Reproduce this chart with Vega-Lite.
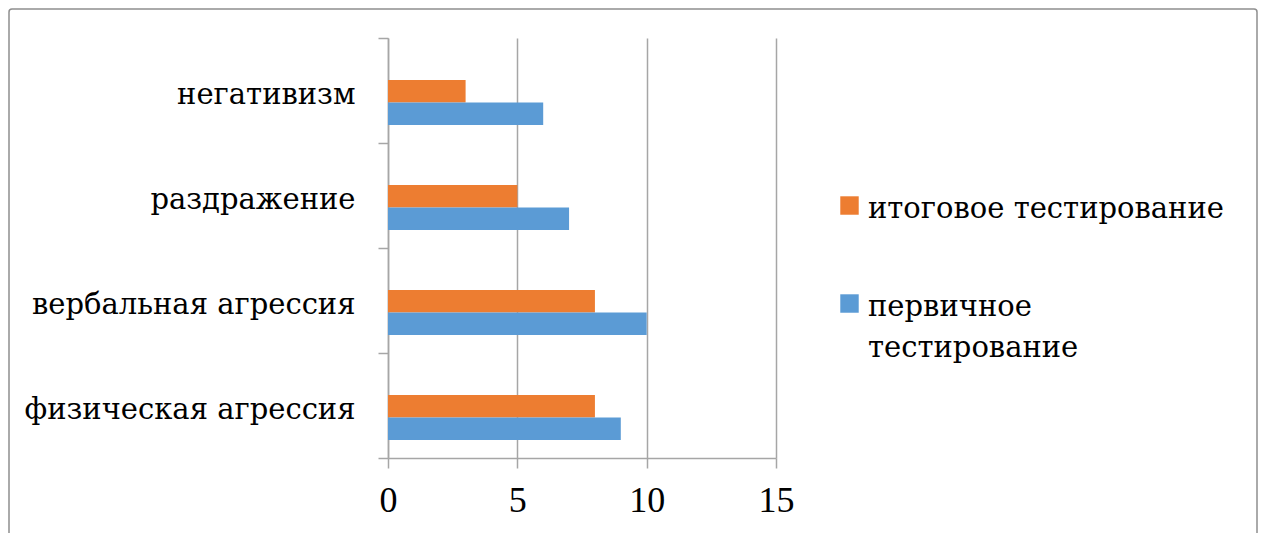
{
  "$schema": "https://vega.github.io/schema/vega-lite/v6.json",
  "width": 1248,
  "height": 540,
  "autosize": {"type": "none"},
  "padding": {"left": 9, "top": 9, "right": 7, "bottom": 0},
  "background": "white",
  "config": {
    "view": {"stroke": "#8f8f8f", "strokeWidth": 1.5, "cornerRadius": 3},
    "style": {"guide-label": {"lineHeight": 41}}
  },
  "data": {
    "values": [
      {"category": "негативизм", "series": "итоговое тестирование", "value": 3},
      {"category": "негативизм", "series": "первичное тестирование", "value": 6},
      {"category": "раздражение", "series": "итоговое тестирование", "value": 5},
      {"category": "раздражение", "series": "первичное тестирование", "value": 7},
      {"category": "вербальная агрессия", "series": "итоговое тестирование", "value": 8},
      {"category": "вербальная агрессия", "series": "первичное тестирование", "value": 10},
      {"category": "физическая агрессия", "series": "итоговое тестирование", "value": 8},
      {"category": "физическая агрессия", "series": "первичное тестирование", "value": 9}
    ]
  },
  "mark": {"type": "bar"},
  "encoding": {
    "y": {
      "field": "category",
      "type": "nominal",
      "sort": ["негативизм", "раздражение", "вербальная агрессия", "физическая агрессия"],
      "scale": {"range": [29, 449], "paddingInner": 0, "paddingOuter": 0},
      "axis": {
        "title": null,
        "orient": "left",
        "offset": -379,
        "grid": false,
        "domainColor": "#a6a6a6",
        "domainWidth": 1.5,
        "tickColor": "#a6a6a6",
        "tickWidth": 1.5,
        "tickSize": 10,
        "tickBand": "extent",
        "labelFont": "DejaVu Serif",
        "labelFontSize": 29,
        "labelColor": "#000000",
        "labelPadding": 23,
        "labelOffset": 4,
        "labelLimit": 400
      }
    },
    "x": {
      "field": "value",
      "type": "quantitative",
      "scale": {"domain": [0, 15], "range": [379, 767], "nice": false},
      "axis": {
        "title": null,
        "orient": "top",
        "offset": -449,
        "values": [0, 5, 10, 15],
        "grid": true,
        "gridColor": "#a6a6a6",
        "gridWidth": 1.5,
        "domainColor": "#a6a6a6",
        "domainWidth": 1.5,
        "tickColor": "#a6a6a6",
        "tickWidth": 1.5,
        "tickSize": -10,
        "labelBaseline": "top",
        "labelAlign": "center",
        "labelAngle": 0,
        "labelPadding": -15,
        "labelFlush": false,
        "labelFont": "Times New Roman",
        "labelFontSize": 36,
        "labelColor": "#000000"
      }
    },
    "yOffset": {
      "field": "series",
      "type": "nominal",
      "scale": {
        "domain": ["", "итоговое тестирование", "первичное тестирование"],
        "paddingInner": 0,
        "paddingOuter": 0.833,
        "align": 0.52
      }
    },
    "color": {
      "field": "series",
      "type": "nominal",
      "scale": {
        "domain": ["итоговое тестирование", "первичное тестирование"],
        "range": ["#ED7D31", "#5B9BD5"]
      },
      "legend": {
        "title": null,
        "orient": "none",
        "legendX": 826,
        "legendY": 194,
        "padding": 0,
        "symbolType": "M-1,-2.3H1V-0.3H-1Z",
        "symbolSize": 340,
        "symbolStrokeWidth": 0,
        "labelFont": "DejaVu Serif",
        "labelFontSize": 29,
        "labelColor": "#000000",
        "labelBaseline": "alphabetic",
        "labelOffset": 4,
        "labelLimit": 600,
        "rowPadding": 68,
        "labelExpr": "datum.label == 'первичное тестирование' ? ['первичное', 'тестирование'] : datum.label"
      }
    }
  }
}
